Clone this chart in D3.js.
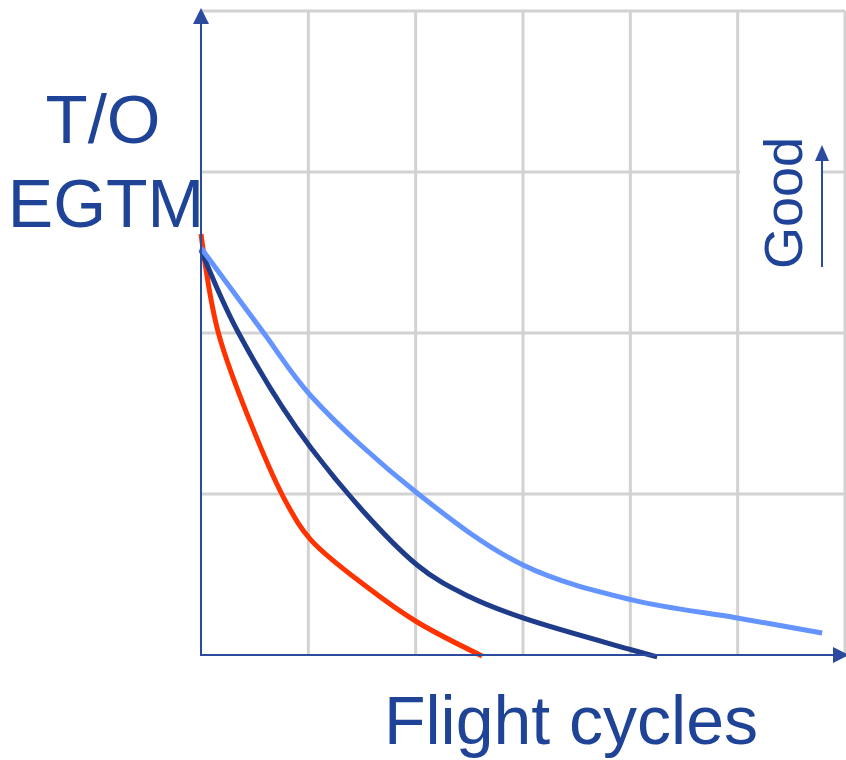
<!DOCTYPE html>
<html>
<head>
<meta charset="utf-8">
<script src="https://cdn.jsdelivr.net/npm/d3@7"></script>
<style>
  html, body { margin: 0; padding: 0; background: #fff; }
  svg { display: block; }
</style>
</head>
<body>
<svg id="chart" width="846" height="760"></svg>
<script>
// Grid positions (in grid units along each axis)
const xTicks = [0, 1, 2, 3, 4, 5, 6];
const yTicks = [0, 1, 2, 3, 4];

// T/O EGT margin decay vs flight cycles, three deterioration profiles
const slowX = [0, 0.578, 1.025, 2.013, 3.0, 4.017, 4.995, 5.787];
const slowY = [2.528, 2.006, 1.609, 1.006, 0.559, 0.342, 0.230, 0.137];

const midX = [0, 0.345, 1.025, 2.013, 2.507, 3.0, 4.017, 4.25];
const midY = [2.516, 2.006, 1.286, 0.559, 0.360, 0.230, 0.031, -0.012];

const fastX = [0, 0.16, 0.50, 0.80, 1.025, 1.547, 2.013, 2.619];
const fastY = [2.615, 2.006, 1.38, 0.94, 0.714, 0.422, 0.205, -0.006];

const svg = d3.select("#chart");
const x = d3.scaleLinear().domain([0, 6]).range([201, 845]);
const y = d3.scaleLinear().domain([0, 4]).range([655, 11]);

const axisColor = "#2a4b9e";
const textColor = "#1f4397";
const gridColor = "#d2d2d2";

// grid
const grid = svg.append("g");
grid.selectAll("line.v").data(xTicks.slice(1)).join("line")
  .attr("x1", d => x(d)).attr("x2", d => x(d))
  .attr("y1", y(4)).attr("y2", y(0))
  .attr("stroke", gridColor).attr("stroke-width", 3);
grid.selectAll("line.h").data(yTicks.slice(1)).join("line")
  .attr("x1", x(0)).attr("x2", x(6))
  .attr("y1", d => y(d)).attr("y2", d => y(d))
  .attr("stroke", gridColor).attr("stroke-width", 3);

// white box behind the "Good" label
svg.append("rect")
  .attr("x", x(5) + 2.5).attr("y", 130)
  .attr("width", 82).attr("height", 150)
  .attr("fill", "#fff");

// curves
const line = d3.line().x(d => x(d[0])).y(d => y(d[1])).curve(d3.curveCatmullRom.alpha(0.5));
const series = [
  { xs: fastX, ys: fastY, color: "#ff3300" },
  { xs: midX, ys: midY, color: "#1f3c8a" },
  { xs: slowX, ys: slowY, color: "#6494ff" }
];
series.forEach(s => {
  svg.append("path")
    .datum(s.xs.map((v, i) => [v, s.ys[i]]))
    .attr("d", line)
    .attr("fill", "none")
    .attr("stroke", s.color)
    .attr("stroke-width", 5);
});

// axes with arrowheads
svg.append("line")
  .attr("x1", x(0)).attr("x2", x(0))
  .attr("y1", y(0) + 1).attr("y2", 22)
  .attr("stroke", axisColor).attr("stroke-width", 2);
svg.append("path")
  .attr("d", `M${x(0) - 8},24 L${x(0)},8 L${x(0) + 8},24 Z`)
  .attr("fill", axisColor);
svg.append("line")
  .attr("x1", x(0) - 1).attr("x2", 836)
  .attr("y1", y(0)).attr("y2", y(0))
  .attr("stroke", axisColor).attr("stroke-width", 2);
svg.append("path")
  .attr("d", `M833,${y(0) - 8} L849,${y(0)} L833,${y(0) + 8} Z`)
  .attr("fill", axisColor);

// labels
const font = "'Liberation Sans', Arial, sans-serif";
svg.append("text")
  .attr("x", 103).attr("y", 143)
  .attr("text-anchor", "middle")
  .attr("font-family", font).attr("font-size", 69)
  .attr("fill", textColor).text("T/O");
svg.append("text")
  .attr("x", 106).attr("y", 227)
  .attr("text-anchor", "middle")
  .attr("font-family", font).attr("font-size", 68)
  .attr("fill", textColor).text("EGTM");
svg.append("text")
  .attr("x", 571).attr("y", 744)
  .attr("text-anchor", "middle")
  .attr("font-family", font).attr("font-size", 68)
  .attr("fill", textColor).text("Flight cycles");
svg.append("text")
  .attr("transform", "translate(802,203) rotate(-90)")
  .attr("text-anchor", "middle")
  .attr("font-family", font).attr("font-size", 54)
  .attr("fill", textColor).text("Good");

// "Good" direction arrow
svg.append("line")
  .attr("x1", 822).attr("x2", 822)
  .attr("y1", 267).attr("y2", 158)
  .attr("stroke", axisColor).attr("stroke-width", 2);
svg.append("path")
  .attr("d", "M815,161 L822,145 L829,161 Z")
  .attr("fill", axisColor);
</script>
</body>
</html>
